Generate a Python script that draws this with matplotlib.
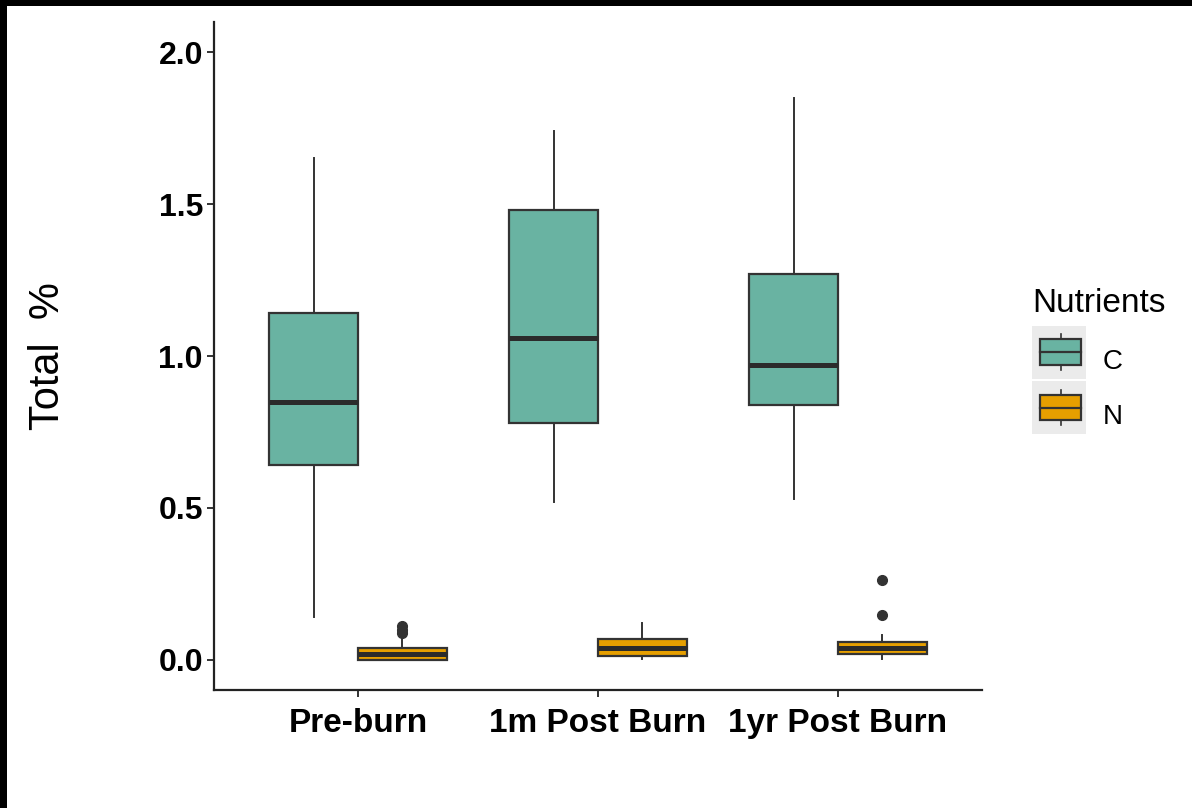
import matplotlib
matplotlib.use("Agg")
import matplotlib.pyplot as plt
from matplotlib.patches import Rectangle, Patch
from matplotlib.legend_handler import HandlerBase
import numpy as np

plt.rcParams['font.family'] = ['Liberation Sans', 'DejaVu Sans']

# data (box stats)
groups = ['Pre-burn', '1m Post Burn', '1yr Post Burn']
nutrients = ['C', 'N']
colors = {'C': '#69b3a2', 'N': '#e69f00'}

c_whislo = [0.14, 0.52, 0.53]
c_q1 = [0.64, 0.78, 0.84]
c_med = [0.85, 1.06, 0.97]
c_q3 = [1.14, 1.48, 1.27]
c_whishi = [1.65, 1.74, 1.85]
c_fliers = [[], [], []]

n_whislo = [0.0, 0.003, 0.003]
n_q1 = [0.0, 0.012, 0.018]
n_med = [0.018, 0.04, 0.04]
n_q3 = [0.04, 0.068, 0.058]
n_whishi = [0.078, 0.12, 0.082]
n_fliers = [[0.09, 0.1, 0.11], [], [0.148, 0.262]]

fig = plt.figure(figsize=(11.92, 8.08), dpi=100)
ax = fig.add_axes([214/1192, 1-690/808, (982-214)/1192, (690-22)/808])

def make_stats(lo, q1, med, q3, hi, fl):
    return [dict(whislo=lo[i], q1=q1[i], med=med[i], q3=q3[i], whishi=hi[i], fliers=fl[i])
            for i in range(len(lo))]

x = np.arange(1, len(groups)+1)
w = 0.37
edge = '#333333'
for k, (nut, st) in enumerate([('C', make_stats(c_whislo, c_q1, c_med, c_q3, c_whishi, c_fliers)),
                               ('N', make_stats(n_whislo, n_q1, n_med, n_q3, n_whishi, n_fliers))]):
    pos = x + (k - 0.5) * w
    ax.bxp(st, positions=pos, widths=w, patch_artist=True, showcaps=False,
           boxprops=dict(facecolor=colors[nut], edgecolor=edge, linewidth=1.6),
           medianprops=dict(color='#2b2b2b', linewidth=3.6),
           whiskerprops=dict(color=edge, linewidth=1.4),
           flierprops=dict(marker='o', markerfacecolor=edge, markeredgecolor=edge, markersize=7),
           manage_ticks=False)

ax.set_xlim(0.4, 3.6)
ax.set_ylim(-0.099, 2.099)
ax.set_xticks(x)
ax.set_xticklabels(groups, fontsize=24, fontweight='bold')
ax.set_yticks([0.0, 0.5, 1.0, 1.5, 2.0])
ax.set_yticklabels(['0.0', '0.5', '1.0', '1.5', '2.0'], fontsize=23, fontweight='bold')
for s in ['top', 'right']:
    ax.spines[s].set_visible(False)
for s in ['left', 'bottom']:
    ax.spines[s].set_linewidth(1.6)
    ax.spines[s].set_color('#222222')
ax.tick_params(axis='both', length=5, width=1.4, color='#333333')
ax.tick_params(axis='x', pad=8)
ax.tick_params(axis='y', pad=3)
ax.set_ylabel('Total  %', fontsize=30)
ax.yaxis.set_label_coords(-0.19, 0.5)

lab_fs = 20
row_gap = 0.97


class BoxHandler(HandlerBase):
    def create_artists(self, legend, orig, xd, yd, width, height, fontsize, trans):
        fc = orig.get_facecolor()
        ext = row_gap * fontsize / 2
        bg = Rectangle((xd, yd - ext), width, height + 2 * ext, facecolor='#ebebeb',
                       edgecolor='none', transform=trans)
        bx = Rectangle((xd + 5.5, yd), width - 9, height, facecolor=fc, edgecolor=edge,
                       linewidth=1.6, transform=trans)
        cx = xd + 5.5 + (width - 9) / 2
        l1 = plt.Line2D([cx, cx], [yd + height, yd + height + 3.6], color=edge, lw=1.2, transform=trans)
        l2 = plt.Line2D([cx, cx], [yd - 3.6, yd], color=edge, lw=1.2, transform=trans)
        l3 = plt.Line2D([xd + 5.5, xd + width - 3.5], [yd + height / 2] * 2, color=edge, lw=1.6,
                        transform=trans)
        return [bg, bx, l1, l2, l3]

handles = [Patch(facecolor=colors[n]) for n in nutrients]
leg = fig.legend(handles, nutrients, title='Nutrients', loc='upper left',
                 bbox_to_anchor=(1010/1192, 1-266/808), frameon=False, borderpad=0.3,
                 handler_map={Patch: BoxHandler()}, fontsize=lab_fs, title_fontsize=24,
                 handlelength=1.94, handleheight=1.05, labelspacing=row_gap, handletextpad=0.6,
                 alignment='left')

# black border strips at top and left
fig.patches.append(Rectangle((0, 1-6/808), 1, 6/808, transform=fig.transFigure,
                             facecolor='black', edgecolor='none'))
fig.patches.append(Rectangle((0, 0), 7/1192, 1, transform=fig.transFigure,
                             facecolor='black', edgecolor='none'))

fig.savefig('out.png', dpi=100)
